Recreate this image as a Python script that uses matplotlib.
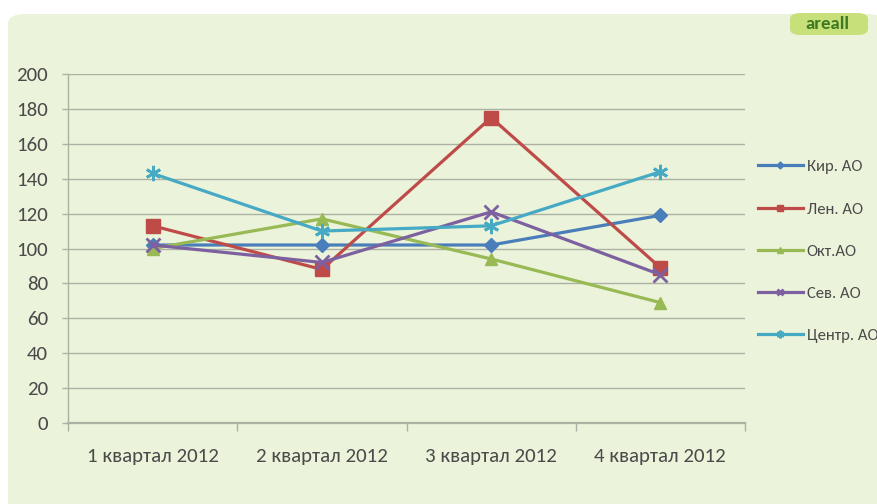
import matplotlib as mpl
from matplotlib import pyplot as plt
from matplotlib.patches import FancyBboxPatch
import numpy as np

plt.rcParams['font.family'] = ['Carlito', 'DejaVu Sans']

# ---- data ----
quarters = ["1 квартал 2012", "2 квартал 2012", "3 квартал 2012", "4 квартал 2012"]
kir = [102, 102, 102, 119]
len_ao = [113, 88, 175, 89]
okt = [100, 117, 94, 69]
sev = [102, 92, 121, 85]
centr = [143, 110, 113, 144]

series_names = ["Кир. АО", "Лен. АО", "Окт.АО", "Сев. АО", "Центр. АО"]
series_vals = [kir, len_ao, okt, sev, centr]
colors = ["#4A7EBB", "#BE4B48", "#98B954", "#7D60A0", "#46AAC5"]
markers = ["D", "s", "^", "x", (6, 2, 0)]
msizes = [7, 10, 9, 10, 11]

W, H = 877, 504
fig = plt.figure(figsize=(W / 100, H / 100), dpi=100)
fig.patch.set_facecolor("white")

# rounded panel behind the chart
panel = FancyBboxPatch((8 / W, -0.05), 1.0, (H - 14) / H + 0.05,
                       boxstyle="round,pad=0,rounding_size=0.02",
                       transform=fig.transFigure, facecolor="#EBF3DA",
                       edgecolor="none", zorder=-10)
fig.patches.append(panel)

ax = fig.add_axes([68 / W, 1 - 423 / H, (745 - 68) / W, (423 - 74) / H])
ax.set_facecolor("none")

x = np.arange(len(quarters))
for name, vals, c, m, ms in zip(series_names, series_vals, colors, markers, msizes):
    ax.plot(x, vals, color=c, lw=2.3, marker=m, markersize=ms,
            markeredgewidth=2 if m in ("x",) or isinstance(m, tuple) else 1,
            markeredgecolor=c, markerfacecolor=c, label=name, zorder=3)

ax.set_xlim(-0.5, 3.5)
ax.set_ylim(0, 200)
ax.set_yticks(np.arange(0, 201, 20))
ax.yaxis.grid(True, color="#ADB1A3", lw=1.0)
ax.set_axisbelow(True)

ax.set_xticks(x)
ax.set_xticklabels(quarters, fontsize=15, color="#4A4A4A")
ax.tick_params(axis="x", length=0, pad=18)
ax.set_xticks(np.arange(-0.5, 4, 1), minor=True)
ax.tick_params(axis="x", which="minor", length=6, color="#ADB1A3", width=1.0)
ax.tick_params(axis="y", labelsize=15, labelcolor="#4A4A4A", length=4.3,
               color="#ADB1A3", width=1.0, pad=10)

for s in ["top", "right"]:
    ax.spines[s].set_visible(False)
ax.spines["left"].set_color("#ADB1A3")
ax.spines["bottom"].set_color("#ADB1A3")
ax.spines["left"].set_linewidth(1.0)
ax.spines["bottom"].set_linewidth(1.6)

leg = ax.legend(loc="upper left", bbox_to_anchor=(751 / W, 1 - 153 / H),
                bbox_transform=fig.transFigure, frameon=False,
                fontsize=12, labelspacing=1.65, handlelength=2.7,
                handletextpad=0.25, borderaxespad=0, markerscale=0.5)
for t in leg.get_texts():
    t.set_color("#4A4A4A")

# badge in the top right corner
badge = FancyBboxPatch((790 / W, 1 - 35 / H), 78 / W, 22 / H,
                       boxstyle="round,pad=0,rounding_size=0.012",
                       transform=fig.transFigure, facecolor="#C8E07A",
                       edgecolor="none", zorder=1)
fig.patches.append(badge)
fig.text(827 / W, 1 - 24 / H, "areall", ha="center", va="center",
         fontsize=13.5, fontweight="bold", color="#3E7A22")

fig.savefig("out.png", dpi=100)
